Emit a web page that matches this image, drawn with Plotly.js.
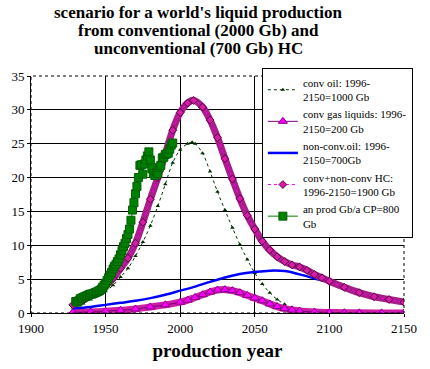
<!DOCTYPE html>
<html>
<head>
<meta charset="utf-8">
<script src="https://cdn.plot.ly/plotly-3.0.1.min.js"></script>
<style>html,body{margin:0;padding:0;background:#fff;}#chart{width:430px;height:369px;}</style>
</head>
<body>
<div id="chart"></div>
<script>
// conventional oil (model)
const convYears = [1928,1935,1940,1945,1950,1955,1960,1965,1970,1975,1980,1985,1990,1995,2000,2005,2008,2010,2015,2020,2025,2030,2035,2040,2045,2050,2055,2060,2065,2070,2075,2080,2085,2090,2100,2110,2120,2135,2150];
const convOil   = [0.8,1.4,2.0,2.6,3.2,4.1,5.3,6.6,8.4,10.5,12.9,15.8,19.0,22.2,24.1,25.0,25.2,25.0,23.6,20.9,17.9,15.2,12.6,10.1,7.9,5.9,4.3,3.0,2.0,1.3,0.8,0.5,0.3,0.2,0.1,0.05,0.02,0.01,0];

// conventional gas liquids
const gasYears = [1928,1940,1950,1960,1970,1980,1990,2000,2005,2010,2015,2020,2025,2030,2035,2040,2045,2050,2055,2060,2065,2070,2075,2080,2090,2100,2110,2120,2135,2150];
const gasLiquids = [0.1,0.15,0.25,0.4,0.6,0.9,1.2,1.6,1.9,2.3,2.7,3.1,3.4,3.45,3.3,3.0,2.6,2.2,1.8,1.35,0.95,0.65,0.45,0.3,0.15,0.08,0.04,0.02,0.01,0];

// non-conventional oil
const nonconvYears = [1928,1940,1950,1960,1970,1980,1990,2000,2010,2020,2030,2040,2050,2060,2070,2080,2090,2100,2110,2120,2130,2140,2150];
const nonconvOil = [0.7,0.9,1.2,1.5,1.8,2.2,2.7,3.3,3.9,4.6,5.25,5.75,6.05,6.25,6.2,5.7,5.1,4.5,3.7,2.9,2.3,1.9,1.5];

// conv + non-conv HC
const totalYears = [1928,1935,1940,1945,1950,1955,1960,1965,1970,1975,1980,1985,1990,1995,2000,2005,2009,2015,2020,2025,2030,2035,2040,2045,2050,2055,2060,2065,2070,2075,2080,2085,2090,2095,2100,2110,2120,2130,2140,2150];
const totalHC = [1.2,1.9,2.6,3.2,4.0,5.1,6.6,8.1,10.3,13.4,16.8,20.0,23.5,27.0,29.6,31.0,31.4,30.4,28.5,25.9,22.8,19.8,16.9,14.4,12.4,10.6,9.3,8.3,7.6,7.1,6.8,6.3,5.7,5.2,4.7,3.8,3.0,2.4,2.0,1.6];

// annual production (historical)
const histYears = [1930,1931,1932,1933,1934,1935,1936,1937,1938,1939,1940,1941,1942,1943,1944,1945,1946,1947,1948,1949,1950,1951,1952,1953,1954,1955,1956,1957,1958,1959,1960,1961,1962,1963,1964,1965,1966,1967,1968,1969,1970,1971,1972,1973,1974,1975,1976,1977,1978,1979,1980,1981,1982,1983,1984,1985,1986,1987,1988,1989,1990,1991,1992,1993,1994,1995];
const histProd = [1.7,1.6,1.8,2.1,2.2,2.3,2.4,2.5,2.6,2.7,2.8,2.8,2.9,3.0,3.1,3.2,3.3,3.5,3.8,4.1,4.4,4.8,5.2,5.6,6.0,6.5,6.9,7.2,7.6,8.0,8.6,9.2,9.8,10.3,11.0,11.6,12.4,13.7,15.2,16.3,17.6,18.7,20.0,21.8,21.9,20.5,22.0,22.6,23.2,23.8,22.6,21.3,20.6,20.3,20.8,20.6,21.5,21.8,22.9,23.0,23.4,23.5,23.6,24.2,24.8,25.1];

const seriesNames = [
  'conv oil: 1996-<br>2150=1000 Gb',
  'conv gas liquids: 1996-<br>2150=200 Gb',
  'non-conv.oil: 1996-<br>2150=700Gb',
  'conv+non-conv HC:<br>1996-2150=1900 Gb',
  'an prod Gb/a CP=800<br>Gb'
];
const titleLines = [
  "scenario for a world's liquid production",
  "from conventional (2000 Gb) and",
  "unconventional (700 Gb) HC"
];
const xTickVals = [1900,1950,2000,2050,2100,2150];
const yTickVals = [0,5,10,15,20,25,30,35];

const serif = 'Liberation Serif';

const traces = [
  {x: convYears, y: convOil, name: seriesNames[0], mode: 'lines+markers',
   line: {color: '#003800', width: 1, dash: 'dot', shape: 'spline'},
   marker: {symbol: 'triangle-up', size: 4, color: '#003000'}},
  {x: gasYears, y: gasLiquids, mode: 'lines', showlegend: false, hoverinfo: 'skip',
   line: {color: '#d01ca8', width: 7, shape: 'spline'}},
  {x: gasYears, y: gasLiquids, name: seriesNames[1], mode: 'lines+markers',
   line: {color: '#800080', width: 1, shape: 'spline'},
   marker: {symbol: 'triangle-up', size: 8, color: '#ff00ff', line: {color: '#800080', width: 1}}},
  {x: nonconvYears, y: nonconvOil, name: seriesNames[2], mode: 'lines',
   line: {color: '#0000ff', width: 2.5, shape: 'spline'}},
  {x: totalYears, y: totalHC, mode: 'lines', showlegend: false, hoverinfo: 'skip',
   line: {color: '#a81d88', width: 7, shape: 'spline'}},
  {x: totalYears, y: totalHC, name: seriesNames[3], mode: 'lines+markers',
   line: {color: '#ff00ff', width: 1, dash: 'dot', shape: 'spline'},
   marker: {symbol: 'diamond', size: 6, color: '#d81ca8', line: {color: '#500040', width: 1}}},
  {x: histYears, y: histProd, name: seriesNames[4], mode: 'lines+markers',
   line: {color: '#008000', width: 1},
   marker: {symbol: 'square', size: 8, color: '#008000', line: {color: '#006000', width: 1}}}
];

const titleY = [1.266, 1.19, 1.114];
const annotations = titleLines.map((t, i) => ({
  text: t, xref: 'paper', yref: 'paper', x: 0.448, y: titleY[i],
  xanchor: 'center', yanchor: 'middle', showarrow: false,
  font: {family: serif, size: 17, color: '#000', weight: 'bold'}
}));

const layout = {
  width: 430, height: 369,
  margin: {l: 31, r: 26, t: 76, b: 56},
  paper_bgcolor: '#ffffff', plot_bgcolor: '#ffffff',
  font: {family: serif, size: 12, color: '#000'},
  annotations: annotations,
  xaxis: {
    range: [1900, 2150], tickvals: xTickVals, ticktext: xTickVals.map(String),
    showgrid: true, gridcolor: '#000', gridwidth: 1,
    showline: true, linecolor: '#000', linewidth: 1,
    ticks: 'outside', ticklen: 3, tickcolor: '#000',
    zeroline: false, tickfont: {family: serif, size: 13, color: '#000'},
    title: {text: 'production year', font: {family: serif, size: 19, color: '#000', weight: 'bold'}, standoff: 9}
  },
  yaxis: {
    range: [0, 35], tickvals: yTickVals, ticktext: yTickVals.map(String),
    showgrid: true, gridcolor: '#000', gridwidth: 1,
    showline: true, linecolor: '#000', linewidth: 1,
    ticks: 'outside', ticklen: 3, tickcolor: '#000',
    zeroline: false, tickfont: {family: serif, size: 13, color: '#000'}
  },
  shapes: [
    {type: 'rect', xref: 'paper', yref: 'paper', x0: 0, x1: 1, y0: 0, y1: 1,
     line: {color: '#000', width: 1, dash: 'dot'}, layer: 'above'}
  ],
  legend: {
    x: 0.619, y: 1.034, xanchor: 'left', yanchor: 'top',
    bgcolor: '#ffffff', bordercolor: '#000', borderwidth: 1,
    font: {family: serif, size: 11, color: '#000'},
    tracegroupgap: 0, itemwidth: 30
  },
  showlegend: true
};

Plotly.newPlot('chart', traces, layout, {staticPlot: true, displayModeBar: false});
</script>
</body>
</html>
